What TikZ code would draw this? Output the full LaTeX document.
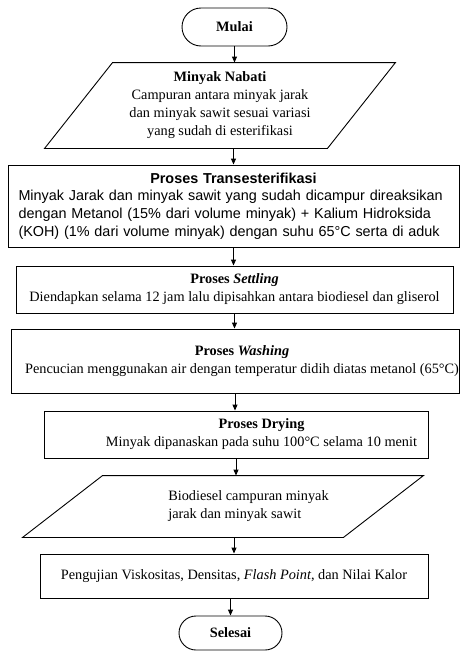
\documentclass[tikz,border=0pt]{standalone}
\usepackage{fontspec}
\setmainfont{Liberation Serif}
\newfontfamily\arialfont{Liberation Sans}
\usetikzlibrary{arrows.meta}

\begin{document}
\begin{tikzpicture}[x=1pt, y=-1pt,
  flow/.style = {draw, line width=0.9pt, shape=rectangle, inner sep=0pt, font=\fontsize{14.3}{18}\selectfont},
  terminal/.style = {flow, font=\fontsize{14.3}{18}\selectfont\bfseries},
  iobox/.style = {flow, draw=none},
  line/.style = {line width=0.9pt, -{Triangle[length=6pt, width=5pt]}}]
\useasboundingbox (0,0) rectangle (461,651);
\node[terminal, rounded corners=19pt, minimum width=105pt, minimum height=38pt] (mulai) at (234.5,27) {Mulai};
\node[iobox, minimum width=350pt, minimum height=85pt, align=center] (nabati) at (220,105.5) {\textbf{Minyak Nabati}\\ Campuran antara minyak jarak\\ dan minyak sawit sesuai variasi\\ yang sudah di esterifikasi};
\node[flow, font=\arialfont\fontsize{14.4}{17.7}\selectfont, minimum width=451pt, minimum height=82pt, text width=430pt, align=left] (trans) at (233.5,206) {\hfill\textbf{Proses Transesterifikasi}\hfill\null\\ Minyak Jarak dan minyak sawit yang sudah dicampur direaksikan\\ dengan Metanol (15\% dari volume minyak) + Kalium Hidroksida\\ (KOH) (1\% dari volume minyak) dengan suhu 65°C serta di aduk};
\node[flow, minimum width=437pt, minimum height=47pt, align=center] (settling) at (234.5,289.5) {\textbf{Proses \textit{Settling}}\\ Diendapkan selama 12 jam lalu dipisahkan antara biodiesel dan gliserol};
\node[flow, minimum width=448pt, minimum height=64pt, align=center] (washing) at (235,361) {\hspace*{14pt}\textbf{Proses \textit{Washing}}\\ \hspace*{14pt}Pencucian menggunakan air dengan temperatur didih diatas metanol (65°C)};
\node[flow, minimum width=384pt, minimum height=47pt, align=center] (drying) at (236,434.5) {\hspace*{51pt}\textbf{Proses Drying}\\ \hspace*{51pt}Minyak dipanaskan pada suhu 100°C selama 10 menit};
\node[iobox, minimum width=400pt, minimum height=61pt, align=left] (hasil) at (223,506.5) {\hspace*{51pt}Biodiesel campuran minyak\\ \hspace*{51pt}jarak dan minyak sawit};
\node[flow, minimum width=388pt, minimum height=44pt] (uji) at (234,576) {Pengujian Viskositas, Densitas, \textit{Flash Point}, dan Nilai Kalor};
\node[terminal, rounded corners=17pt, minimum width=103pt, minimum height=34pt] (selesai) at (230.5,633) {Selesai};

% data masuk dan keluar
\draw[line width=0.9pt] ([xshift=68pt]nabati.north west) -- (nabati.north east) -- ([xshift=-68pt]nabati.south east) -- (nabati.south west) -- cycle;
\draw[line width=0.9pt] ([xshift=80pt]hasil.north west) -- (hasil.north east) -- ([xshift=-80pt]hasil.south east) -- (hasil.south west) -- cycle;

\draw[line] (mulai.south) -- (mulai.south |- nabati.north);
\draw[line] (nabati.south -| trans.north) -- (trans.north);
\draw[line] (trans.south) -- (trans.south |- settling.north);
\draw[line] (settling.south) -- (settling.south |- washing.north);
\draw[line] (washing.south) -- (washing.south |- drying.north);
\draw[line] (drying.south) -- (drying.south |- hasil.north);
\draw[line] (hasil.south -| uji.north) -- (uji.north);
\draw[line] (uji.south -| selesai.north) -- (selesai.north);
\end{tikzpicture}
\end{document}
